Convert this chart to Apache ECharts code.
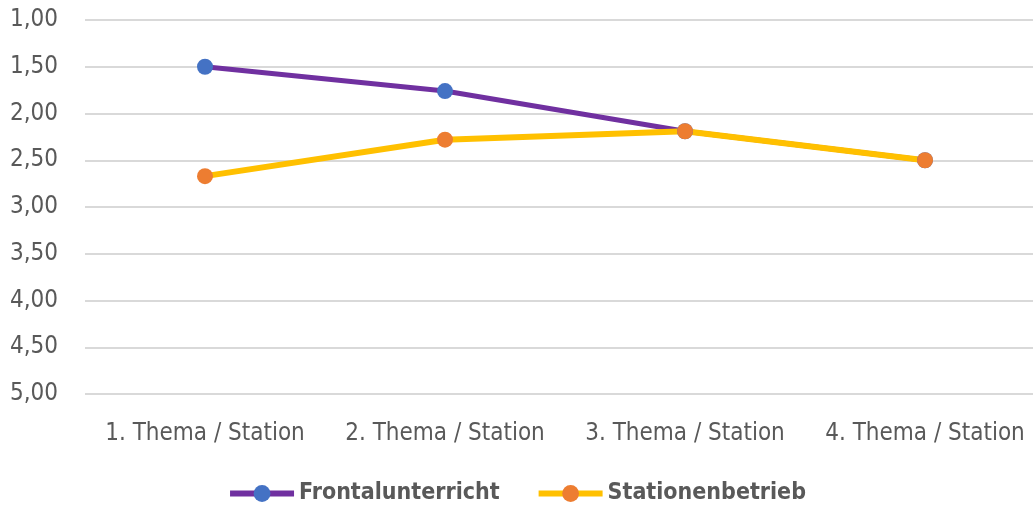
<!DOCTYPE html>
<html>
<head>
<meta charset="utf-8">
<script src="https://cdn.jsdelivr.net/npm/echarts@6/dist/echarts.min.js"></script>
<style>
  html, body { margin: 0; padding: 0; background: #fff; }
  #chart { width: 1033px; height: 510px; }
</style>
</head>
<body>
<div id="chart"></div>
<script>
const categories = ['1. Thema / Station', '2. Thema / Station', '3. Thema / Station', '4. Thema / Station'];
const frontalunterricht = [1.50, 1.76, 2.19, 2.50];
const stationenbetrieb = [2.67, 2.28, 2.19, 2.50];

const font = "'Liberation Sans Narrow', 'DejaVu Sans Condensed', sans-serif";

const chart = echarts.init(document.getElementById('chart'));
chart.setOption({
  animation: false,
  textStyle: { fontFamily: font },
  grid: { left: 85, width: 960, top: 20, bottom: 116, outerBoundsMode: 'none', containLabel: false },
  legend: {
    bottom: 0,
    left: 'center',
    itemWidth: 64,
    itemHeight: 21,
    itemGap: 36,
    lineStyle: { width: 6 },
    textStyle: { fontFamily: font, fontSize: 23, fontWeight: 'bold', color: '#595959' },
    data: ['Frontalunterricht', 'Stationenbetrieb']
  },
  xAxis: {
    type: 'category',
    data: categories,
    axisLine: { show: false },
    axisTick: { show: false },
    axisLabel: { interval: 0, fontSize: 24, color: '#595959', margin: 28, fontFamily: font, hideOverlap: false }
  },
  yAxis: {
    type: 'value',
    inverse: true,
    min: 1,
    max: 5,
    interval: 0.5,
    axisLine: { show: false },
    axisTick: { show: false },
    axisLabel: {
      fontSize: 24, color: '#595959', margin: 27, fontFamily: font,
      formatter: v => v.toFixed(2).replace('.', ',')
    },
    splitLine: { lineStyle: { color: '#d9d9d9', width: 2 } }
  },
  series: [
    {
      name: 'Frontalunterricht',
      type: 'line',
      data: frontalunterricht,
      symbol: 'circle',
      symbolSize: 16,
      lineStyle: { color: '#7030a0', width: 5 },
      itemStyle: { color: '#4472c4' }
    },
    {
      name: 'Stationenbetrieb',
      type: 'line',
      data: stationenbetrieb,
      symbol: 'circle',
      symbolSize: 16,
      lineStyle: { color: '#ffc000', width: 6 },
      itemStyle: { color: '#ed7d31' }
    }
  ]
});
</script>
</body>
</html>
